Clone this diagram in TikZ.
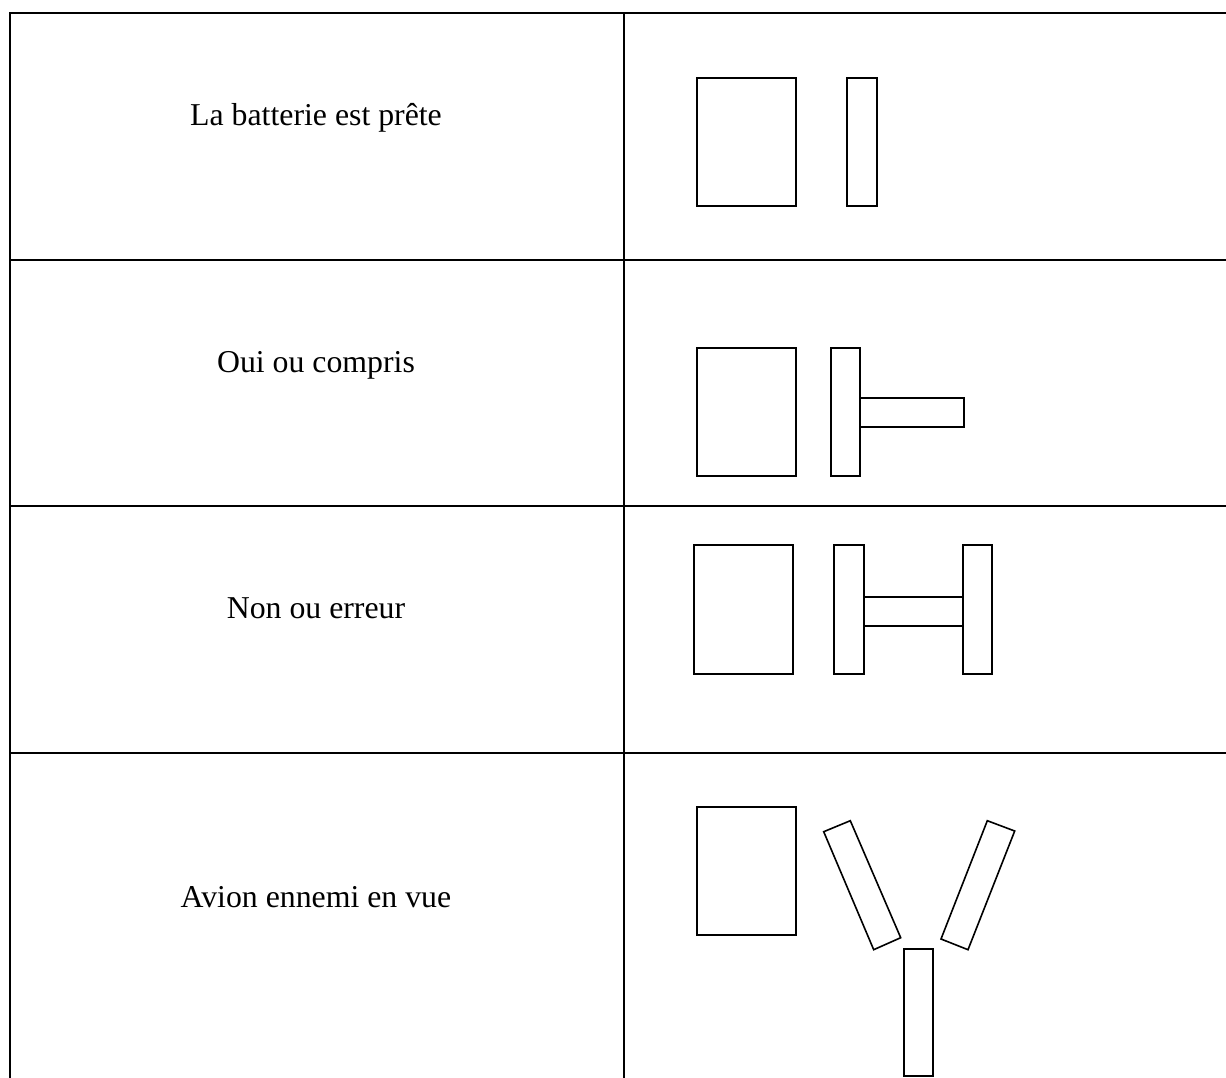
\documentclass[tikz,border=0pt]{standalone}
\usepackage{fontspec}
\setmainfont{Liberation Serif}
\begin{document}
\begin{tikzpicture}[x=0.5pt,y=-0.5pt,
  grid/.style={line width=1pt,line cap=rect},
  shp/.style={line width=0.8pt},
  lbl/.style={anchor=base,inner sep=0pt,font=\fontsize{15.9}{19}\selectfont}]
\useasboundingbox (0,0) rectangle (1226,1077);
% table
\draw[grid] (1226,13) -- (10,13) -- (10,1080);
\draw[grid] (624,13) -- (624,1080);
\draw[grid] (10,260) -- (1230,260);
\draw[grid] (10,506) -- (1230,506);
\draw[grid] (10,753) -- (1230,753);
% labels
\node[lbl] (t1) at (316,125) {La batterie est prête};
\node[lbl] (t2) at (316,372) {Oui ou compris};
\node[lbl] (t3) at (316,618) {Non ou erreur};
\node[lbl] (t4) at (316,907) {Avion ennemi en vue};
% row 1
\draw[shp] (697,78) rectangle (796,206);
\draw[shp] (847,78) rectangle (877,206);
% row 2
\draw[shp] (697,348) rectangle (796,476);
\draw[shp] (831,348) rectangle (860,476);
\draw[shp] (860,398) rectangle (964,427);
% row 3
\draw[shp] (694,545) rectangle (793,674);
\draw[shp] (834,545) rectangle (864,674);
\draw[shp] (963,545) rectangle (992,674);
\draw[shp] (864,597) rectangle (963,626);
% row 4
\draw[shp] (697,807) rectangle (796,935);
\draw[shp] (823.7,831.7) -- (850.3,820.7) -- (900.7,937.7) -- (873.7,949.7) -- cycle;
\draw[shp] (987.3,820.7) -- (1014.7,831) -- (968,949.7) -- (941,939) -- cycle;
\draw[shp] (904,949) rectangle (933,1076);
\end{tikzpicture}
\end{document}
